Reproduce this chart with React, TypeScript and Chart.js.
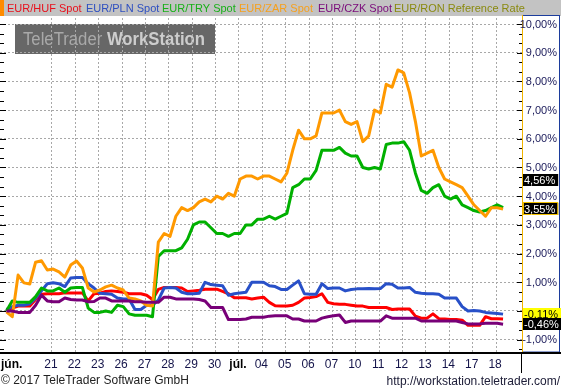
import React, { useEffect, useRef } from "react";
import { Chart, registerables } from "chart.js";
Chart.register(...registerables);

// ---- data ----
const DAY_LABELS = ["jún.", "21", "22", "23", "26", "27", "28", "29", "30", "júl.", "04", "05", "06", "07", "10", "11", "12", "13", "14", "17", "18"];
const MONTH_LABEL_DAYS = [0, 9];
const Y_TICKS = [10, 9, 8, 7, 6, 5, 4, 3, 2, 1, -1];
const Y_GRID = [-1, 0, 1, 2, 3, 4, 5, 6, 7, 8, 9, 10];
const SAMPLE_START = -0.95; // day index of first sample
const SAMPLE_STEP = 0.25; // quarter-day samples

const SERIES_NAMES = ["EUR/HUF Spot", "EUR/PLN Spot", "EUR/TRY Spot", "EUR/ZAR Spot", "EUR/CZK Spot", "EUR/RON Reference Rate"];

const HUF = [0.05, 0.1, 0.17, 0.17, 0.17, 0.4, 0.58, 0.6, 0.6, 0.6, 0.63, 0.63, 0.63, 0.63, 0.35, 0.6, 0.62, 0.68, 0.7, 0.68, 0.65, 0.6, 0.6, 0.6, 0.55, 0.4, 0.75, 0.82, 0.82, 0.82, 0.8, 0.68, 0.7, 0.72, 0.76, 0.76, 0.76, 0.68, 0.6, 0.46, 0.46, 0.46, 0.42, 0.45, 0.48, 0.3, 0.18, 0.17, 0.17, 0.2, 0.3, 0.45, 0.47, 0.5, 0.6, 0.3, 0.25, 0.23, 0.23, 0.2, 0.17, 0.17, 0.12, 0.12, 0.12, 0.12, 0.05, 0.07, 0.07, 0.07, -0.18, -0.25, -0.25, -0.1, -0.27, -0.28, -0.3, -0.3, -0.32, -0.5, -0.5, -0.5, -0.2, -0.27, -0.27, -0.28];
const PLN = [0.05, 0.15, 0.2, 0.2, 0.25, 0.45, 0.7, 0.95, 0.98, 0.95, 0.85, 1.15, 1.17, 1.17, 0.95, 0.8, 0.62, 0.6, 0.58, 0.45, 0.42, 0.42, 0.05, 0.05, 0.2, 0.2, 0.38, 0.8, 0.82, 0.8, 0.65, 0.6, 0.6, 0.62, 1.0, 0.92, 0.9, 0.88, 0.55, 0.6, 0.63, 0.65, 1.0, 1.0, 1.0, 0.88, 0.85, 0.75, 0.75, 0.9, 1.05, 0.6, 0.58, 0.58, 0.95, 0.78, 0.8, 0.8, 0.7, 0.75, 0.77, 0.77, 0.78, 0.77, 0.78, 0.95, 0.93, 0.8, 0.8, 0.82, 0.65, 0.62, 0.6, 0.6, 0.58, 0.45, 0.45, 0.45, 0.15, 0.0, 0.02, 0.0, -0.05, -0.07, -0.09, -0.11];
const TRY = [0.0, 0.35, 0.3, 0.3, 0.3, 0.5, 0.8, 0.7, 0.7, 0.8, 0.65, 0.8, 0.82, 0.82, 0.1, -0.05, -0.05, 0.0, -0.05, 0.2, 0.15, -0.1, -0.15, -0.15, -0.15, -0.2, 1.9, 2.1, 2.1, 2.1, 2.2, 2.5, 3.0, 3.1, 3.1, 2.9, 2.7, 2.7, 2.6, 2.7, 2.7, 3.0, 3.0, 3.2, 3.2, 3.3, 3.2, 3.3, 3.4, 4.3, 4.4, 4.6, 4.6, 4.9, 5.6, 5.6, 5.6, 5.7, 5.5, 5.4, 5.4, 5.0, 4.95, 5.0, 4.95, 5.8, 5.85, 5.85, 5.9, 5.6, 4.8, 4.2, 4.1, 4.3, 4.4, 4.0, 3.9, 4.0, 3.7, 3.6, 3.5, 3.45, 3.5, 3.6, 3.7, 3.6];
const ZAR = [-0.03, -0.2, 1.25, 0.98, 0.94, 1.7, 1.75, 1.43, 1.46, 1.36, 1.18, 1.6, 1.74, 1.5, 0.8, 0.66, 0.73, 0.84, 0.9, 0.8, 0.73, 0.45, 0.42, 0.35, 0.2, 0.17, 2.4, 2.7, 2.6, 3.3, 3.6, 3.5, 3.6, 3.8, 3.9, 3.8, 4.0, 3.9, 4.1, 4.0, 4.6, 4.7, 4.7, 4.6, 4.7, 4.7, 4.6, 4.5, 4.8, 5.6, 6.3, 6.0, 6.0, 6.1, 6.9, 6.9, 6.9, 7.0, 6.6, 6.5, 6.6, 5.9, 6.1, 7.0, 6.9, 7.9, 7.8, 8.4, 8.3, 7.6, 6.6, 5.4, 5.5, 5.6, 5.0, 4.6, 4.5, 4.4, 4.3, 4.0, 3.7, 3.5, 3.3, 3.6, 3.6, 3.55];
const CZK = [0.0, 0.0, -0.05, -0.05, -0.05, 0.2, 0.55, 0.35, 0.32, 0.32, 0.45, 0.4, 0.38, 0.38, 0.32, 0.33, 0.45, 0.45, 0.35, 0.35, 0.35, 0.35, 0.32, 0.32, 0.3, 0.3, 0.3, 0.48, 0.48, 0.42, 0.42, 0.42, 0.42, 0.4, 0.35, 0.12, 0.12, 0.12, -0.3, -0.3, -0.3, -0.28, -0.22, -0.22, -0.22, -0.18, -0.17, -0.17, -0.17, -0.28, -0.28, -0.35, -0.35, -0.35, -0.25, -0.2, -0.17, -0.14, -0.4, -0.35, -0.35, -0.35, -0.35, -0.35, -0.35, -0.17, -0.25, -0.25, -0.25, -0.25, -0.25, -0.35, -0.35, -0.35, -0.35, -0.35, -0.35, -0.35, -0.4, -0.45, -0.45, -0.45, -0.43, -0.43, -0.43, -0.46];
const RON: number[] = [];

const BADGE_VALUES = [4.56, 3.55, -0.11, -0.46];
const BADGE_STYLES = [
  { bg: "#000000", fg: "#ffffff", border: null },
  { bg: "#000000", fg: "#ffffff", border: "#f0c000" },
  { bg: "#ffff00", fg: "#000000", border: null },
  { bg: "#000000", fg: "#ffffff", border: null },
];

// ---- style ----
const LINE_COLORS = ["#ff0000", "#2850c8", "#00b000", "#ff9900", "#780078", "#808000"];
const LEGEND_COLORS = ["#e8101c", "#2e4fc0", "#18b018", "#f5a01e", "#7a0a7a", "#8a8a10"];
const LEGEND_X = [7, 86, 162, 239, 318, 394];
const FONT = "'Liberation Sans', Arial, sans-serif";

const fmt = (v: number) => v.toFixed(2).replace(".", ",") + "%";

const framePlugin = {
  id: "frame",
  beforeDraw(chart: any) {
    const ctx = chart.ctx as CanvasRenderingContext2D;
    ctx.save();
    ctx.fillStyle = "#ffffff";
    ctx.fillRect(0, 0, chart.width, chart.height);
    // watermark
    ctx.fillStyle = "#676767";
    ctx.fillRect(15, 24, 200, 30);
    ctx.font = `18px ${FONT}`;
    const w1 = ctx.measureText("TeleTrader ").width;
    ctx.font = `bold 18px ${FONT}`;
    const w2 = ctx.measureText("WorkStation").width;
    const sx = 182 / (w1 + w2);
    ctx.translate(23, 40);
    ctx.scale(sx, 1.05);
    ctx.textBaseline = "middle";
    ctx.font = `18px ${FONT}`;
    ctx.fillStyle = "#a9a9a9";
    ctx.fillText("TeleTrader ", 0, 0);
    ctx.font = `bold 18px ${FONT}`;
    ctx.fillStyle = "#cdcdcd";
    ctx.fillText("WorkStation", w1, 0);
    ctx.restore();
  },
  afterDraw(chart: any) {
    const ctx = chart.ctx as CanvasRenderingContext2D;
    const ys = chart.scales.y;
    const xs = chart.scales.x;
    const area = chart.chartArea;
    const W = chart.width;
    ctx.save();
    // legend bar
    ctx.fillStyle = "#c3c3c3";
    ctx.fillRect(0, 0, W, 16);
    ctx.fillStyle = "#ff8c00";
    ctx.fillRect(0, 0, 4, 16);
    ctx.font = `11px ${FONT}`;
    ctx.textBaseline = "middle";
    ctx.textAlign = "left";
    SERIES_NAMES.forEach((n, i) => {
      ctx.fillStyle = LEGEND_COLORS[i];
      ctx.fillText(n, LEGEND_X[i], 9);
    });

    // right axis box
    const ax = Math.round(area.right);
    ctx.fillStyle = "#ffffff";
    ctx.fillRect(ax, 16, W - ax, area.bottom - 16);
    ctx.strokeStyle = "#1c3c9c";
    ctx.lineWidth = 1;
    ctx.strokeRect(ax + 0.5, 15.5, 559 - ax, area.bottom - 15.5);
    ctx.strokeStyle = "#f0b400";
    ctx.beginPath();
    ctx.moveTo(ax + 0.5, 15);
    ctx.lineTo(ax + 0.5, area.bottom);
    ctx.stroke();

    // minor/major ticks
    ctx.fillStyle = "#000000";
    for (let k = -4; k <= 31; k++) {
      const v = k / 3;
      if (v < ys.min || v > ys.max) continue;
      const y = Math.round(ys.getPixelForValue(v));
      const major = k % 3 === 0;
      ctx.fillRect(0, y, major ? 6 : 4, 1);
      ctx.fillRect(ax - (major ? 5 : 3), y, major ? 5 : 3, 1);
    }

    // y labels
    ctx.font = `11px ${FONT}`;
    ctx.textAlign = "right";
    ctx.fillStyle = "#1a1a5a";
    Y_TICKS.forEach((v) => {
      ctx.fillText(fmt(v), 557, ys.getPixelForValue(v) + 0.5);
    });

    // badges
    BADGE_VALUES.forEach((v, i) => {
      const st = BADGE_STYLES[i];
      const y = Math.round(ys.getPixelForValue(v));
      const txt = fmt(v);
      const tw = ctx.measureText(txt).width;
      const bx = ax + 1;
      const bw = Math.max(tw + 4, 30);
      ctx.fillStyle = st.bg;
      ctx.fillRect(bx, y - 6, bw, 12);
      if (st.border) {
        ctx.strokeStyle = st.border;
        ctx.strokeRect(bx + 0.5, y - 6.5, bw - 1, 12);
      }
      ctx.fillStyle = st.fg;
      ctx.textAlign = "left";
      ctx.fillText(txt, bx + 1, y + 0.5);
    });

    // x axis band
    ctx.fillStyle = "#ffffff";
    ctx.fillRect(0, area.bottom, W, chart.height - area.bottom);
    ctx.fillStyle = "#000000";
    ctx.fillRect(0, area.bottom, W, 2);
    ctx.fillRect(ax - 1, area.bottom, 1, 21);

    ctx.textBaseline = "middle";
    DAY_LABELS.forEach((lab, d) => {
      const isMonth = MONTH_LABEL_DAYS.includes(d);
      ctx.font = `${isMonth ? "bold " : ""}12px ${FONT}`;
      ctx.fillStyle = isMonth ? "#000000" : "#14144a";
      if (d === 0) {
        ctx.textAlign = "left";
        ctx.fillText(lab, 1, 365);
      } else {
        ctx.textAlign = "center";
        ctx.fillText(lab, xs.getPixelForValue(d) - 1, 365);
      }
    });

    // footer
    ctx.font = `12px ${FONT}`;
    ctx.fillStyle = "#222222";
    ctx.textAlign = "left";
    ctx.fillText("© 2017 TeleTrader Software GmbH", 1, 381);
    ctx.textAlign = "right";
    ctx.fillStyle = "#20203a";
    ctx.fillText("http://workstation.teletrader.com/", 560, 382);
    ctx.restore();
  },
};

export default function App() {
  const ref = useRef<HTMLCanvasElement>(null);
  useEffect(() => {
    document.body.style.margin = "0";
    const canvas = ref.current!;
    const series = [HUF, PLN, TRY, ZAR, CZK, RON];
    const orders = [4, 3, 2, 1, 0, 5];
    const chart = new Chart(canvas, {
      type: "line",
      data: {
        datasets: series.map((vals, si) => ({
          label: SERIES_NAMES[si],
          data: vals.map((v, i) => ({ x: SAMPLE_START + i * SAMPLE_STEP, y: v })),
          borderColor: LINE_COLORS[si],
          backgroundColor: LINE_COLORS[si],
          borderWidth: 3,
          pointRadius: 0,
          tension: 0,
          borderJoinStyle: "round" as const,
          order: orders[si],
        })),
      },
      options: {
        responsive: false,
        animation: false,
        devicePixelRatio: 1,
        layout: { padding: { left: 0, top: 18, right: 39, bottom: 39 } },
        plugins: { legend: { display: false }, tooltip: { enabled: false } },
        scales: {
          x: {
            type: "linear",
            min: -1.224,
            max: 21.11,
            afterBuildTicks: (s: any) => {
              s.ticks = DAY_LABELS.map((_, d) => ({ value: d })).filter((t) => t.value >= 1);
            },
            afterFit: (s: any) => {
              s.height = 0;
            },
            ticks: { display: false },
            grid: { color: "#a8a8a8", lineWidth: 1, drawTicks: false },
            border: { display: false, dash: [2, 2] },
          },
          y: {
            type: "linear",
            min: -1.43,
            max: 10.21,
            afterBuildTicks: (s: any) => {
              s.ticks = Y_GRID.map((v) => ({ value: v }));
            },
            afterFit: (s: any) => {
              s.width = 0;
            },
            ticks: { display: false },
            grid: { color: "#a8a8a8", lineWidth: 1, drawTicks: false },
            border: { display: false, dash: [2, 2] },
          },
        },
      },
      plugins: [framePlugin],
    });
    return () => chart.destroy();
  }, []);
  return <canvas ref={ref} width={561} height={391} style={{ display: "block", width: 561, height: 391 }} />;
}
